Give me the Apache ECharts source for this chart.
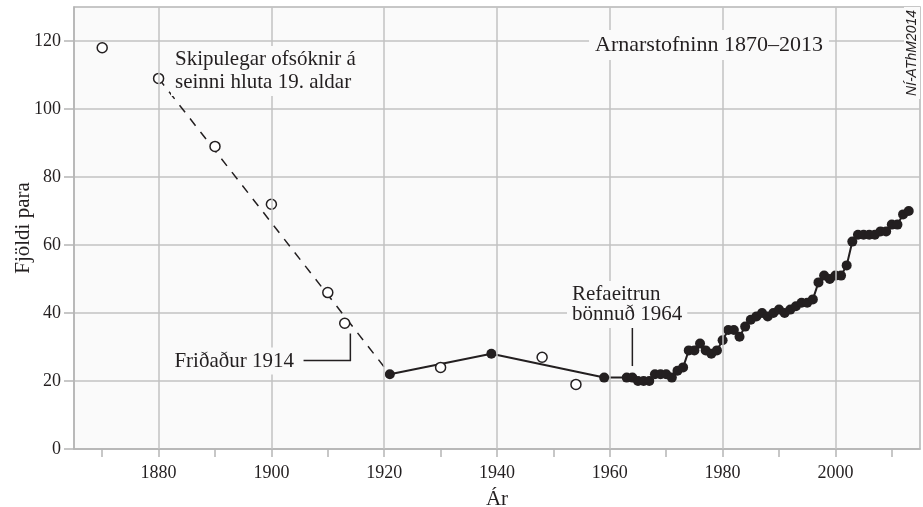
<!DOCTYPE html>
<html><head><meta charset="utf-8">
<script src="https://cdn.jsdelivr.net/npm/echarts@6/dist/echarts.min.js"></script>
<style>html,body{margin:0;padding:0;background:#fff}#c{width:923px;height:507px}</style>
</head><body><div id="c"></div>
<script>
// ---- data ----
const hollowYears = [1870, 1880, 1890, 1900, 1910, 1913, 1930, 1948, 1954];
const hollowValues = [118, 109, 89, 72, 46, 37, 24, 27, 19];
const dashYears = [1880, 1921];
const dashValues = [109, 22];
const filledYears = [1921, 1939, 1959,
  1963, 1964, 1965, 1966, 1967, 1968, 1969, 1970, 1971, 1972,
  1973, 1974, 1975, 1976, 1977, 1978, 1979, 1980, 1981, 1982,
  1983, 1984, 1985, 1986, 1987, 1988, 1989, 1990, 1991, 1992,
  1993, 1994, 1995, 1996, 1997, 1998, 1999, 2000, 2001, 2002,
  2003, 2004, 2005, 2006, 2007, 2008, 2009, 2010, 2011, 2012, 2013];
const filledValues = [22, 28, 21,
  21, 21, 20, 20, 20, 22, 22, 22, 21, 23,
  24, 29, 29, 31, 29, 28, 29, 32, 35, 35,
  33, 36, 38, 39, 40, 39, 40, 41, 40, 41,
  42, 43, 43, 44, 49, 51, 50, 51, 51, 54,
  61, 63, 63, 63, 63, 64, 64, 66, 66, 69, 70];
const xTickValues = [1870, 1880, 1890, 1900, 1910, 1920, 1930, 1940, 1950, 1960, 1970, 1980, 1990, 2000, 2010];
const xLabelValues = [1880, 1900, 1920, 1940, 1960, 1980, 2000];
const yTickValues = [0, 20, 40, 60, 80, 100, 120];

const titleText = 'Arnarstofninn 1870–2013';
const xName = 'Ár';
const yName = 'Fjöldi para';
const note1 = 'Skipulegar ofsóknir á\nseinni hluta 19. aldar';
const note2 = 'Friðaður 1914';
const note3 = 'Refaeitrun\nbönnuð 1964';
const credit = 'NÍ-AThM2014';

const zip = (a, b) => a.map((v, i) => [v, b[i]]);

const INK = '#231f20';
const GRID = '#c2c2c2';
const BORDER = '#b5b5b5';
const BG = '#fafafa';
const SERIF = 'Liberation Serif';

const chart = echarts.init(document.getElementById('c'), null, {renderer: 'canvas'});
chart.setOption({
  animation: false,
  backgroundColor: '#ffffff',
  grid: {left: 74, right: 3, top: 7, bottom: 58, show: true, outerBoundsMode: 'none', containLabel: false,
    backgroundColor: BG, borderColor: BORDER, borderWidth: 1.5},
  xAxis: {
    type: 'value', min: 1865, max: 2015,
    name: xName, nameLocation: 'middle', nameGap: 40, nameMoveOverlap: false,
    nameTextStyle: {fontFamily: SERIF, fontSize: 21, color: INK},
    axisLine: {show: true, lineStyle: {color: BORDER, width: 1.5}},
    axisTick: {show: true, length: 8, customValues: xTickValues, lineStyle: {color: BORDER, width: 1.5}},
    axisLabel: {customValues: xLabelValues, margin: 15, fontFamily: SERIF, fontSize: 18, color: INK,
      formatter: v => String(v)},
    splitLine: {show: false}
  },
  yAxis: {
    type: 'value', min: 0, max: 130, interval: 20,
    name: yName, nameLocation: 'middle', nameGap: 40, nameRotate: 90, nameMoveOverlap: false,
    nameTextStyle: {fontFamily: SERIF, fontSize: 21, color: INK},
    axisLine: {show: true, lineStyle: {color: BORDER, width: 1.5}},
    axisTick: {show: true, length: 10, customValues: yTickValues, lineStyle: {color: BORDER, width: 1.5}},
    axisLabel: {customValues: yTickValues, margin: 13, fontFamily: SERIF, fontSize: 18, color: INK,
      formatter: v => String(v)},
    splitLine: {show: true, lineStyle: {color: GRID, width: 1.5}}
  },
  series: [
    {
      type: 'line', data: [], z: 1, silent: true,
      markLine: {silent: true, symbol: 'none', label: {show: false},
        lineStyle: {color: GRID, width: 1.5, type: 'solid'},
        data: xLabelValues.map(v => ({xAxis: v}))}
    },
    {
      type: 'line', data: zip(dashYears, dashValues), showSymbol: false, z: 2,
      lineStyle: {color: INK, width: 1.5, type: [9, 8]}
    },
    {
      type: 'line', data: zip(filledYears, filledValues), z: 3,
      symbol: 'circle', symbolSize: 10, showAllSymbol: true,
      lineStyle: {color: INK, width: 2},
      itemStyle: {color: INK}
    },
    {
      type: 'scatter', data: zip(hollowYears, hollowValues), z: 4,
      symbol: 'circle', symbolSize: 10,
      itemStyle: {color: '#ffffff', borderColor: INK, borderWidth: 1.5, opacity: 1}
    }
  ]
});

const P = (x, y) => chart.convertToPixel({gridIndex: 0}, [x, y]);
const a1 = P(1905.7, 26), a2 = P(1914, 26), a3 = P(1914, 34);
const b1 = P(1964, 36.2), b2 = P(1964, 24.4);

const txt = (extra) => Object.assign({fontFamily: SERIF, fontSize: 21, fill: INK, backgroundColor: BG}, extra);

chart.setOption({
  graphic: [
    {type: 'polyline', z: 50, shape: {points: [a1, a2, a3]}, style: {stroke: INK, lineWidth: 1.5, fill: null}},
    {type: 'line', z: 50, shape: {x1: b1[0], y1: b1[1], x2: b2[0], y2: b2[1]}, style: {stroke: INK, lineWidth: 1.5}},
    {type: 'text', z: 50, x: 171, y: 46, style: txt({text: note1,
      align: 'left', verticalAlign: 'top', lineHeight: 23, padding: [2, 4, 2, 4]})},
    {type: 'text', z: 50, x: 298, y: 361, style: txt({text: note2,
      align: 'right', verticalAlign: 'middle', padding: [3, 4, 3, 4]})},
    {type: 'text', z: 50, x: 567, y: 281, style: txt({text: note3,
      align: 'left', verticalAlign: 'top', lineHeight: 20, padding: [3, 5, 4, 5]})},
    {type: 'text', z: 50, x: 709, y: 45, style: txt({text: titleText, fontSize: 22,
      align: 'center', verticalAlign: 'middle', padding: [4, 6, 4, 6]})},
    {type: 'text', z: 50, x: 912, y: 53, rotation: Math.PI / 2, style: {text: credit,
      fontFamily: 'Liberation Sans', fontStyle: 'italic', fontSize: 14, fill: INK,
      align: 'center', verticalAlign: 'middle', backgroundColor: BG, padding: [1, 3, 1, 3]}}
  ]
});
</script>
</body></html>
